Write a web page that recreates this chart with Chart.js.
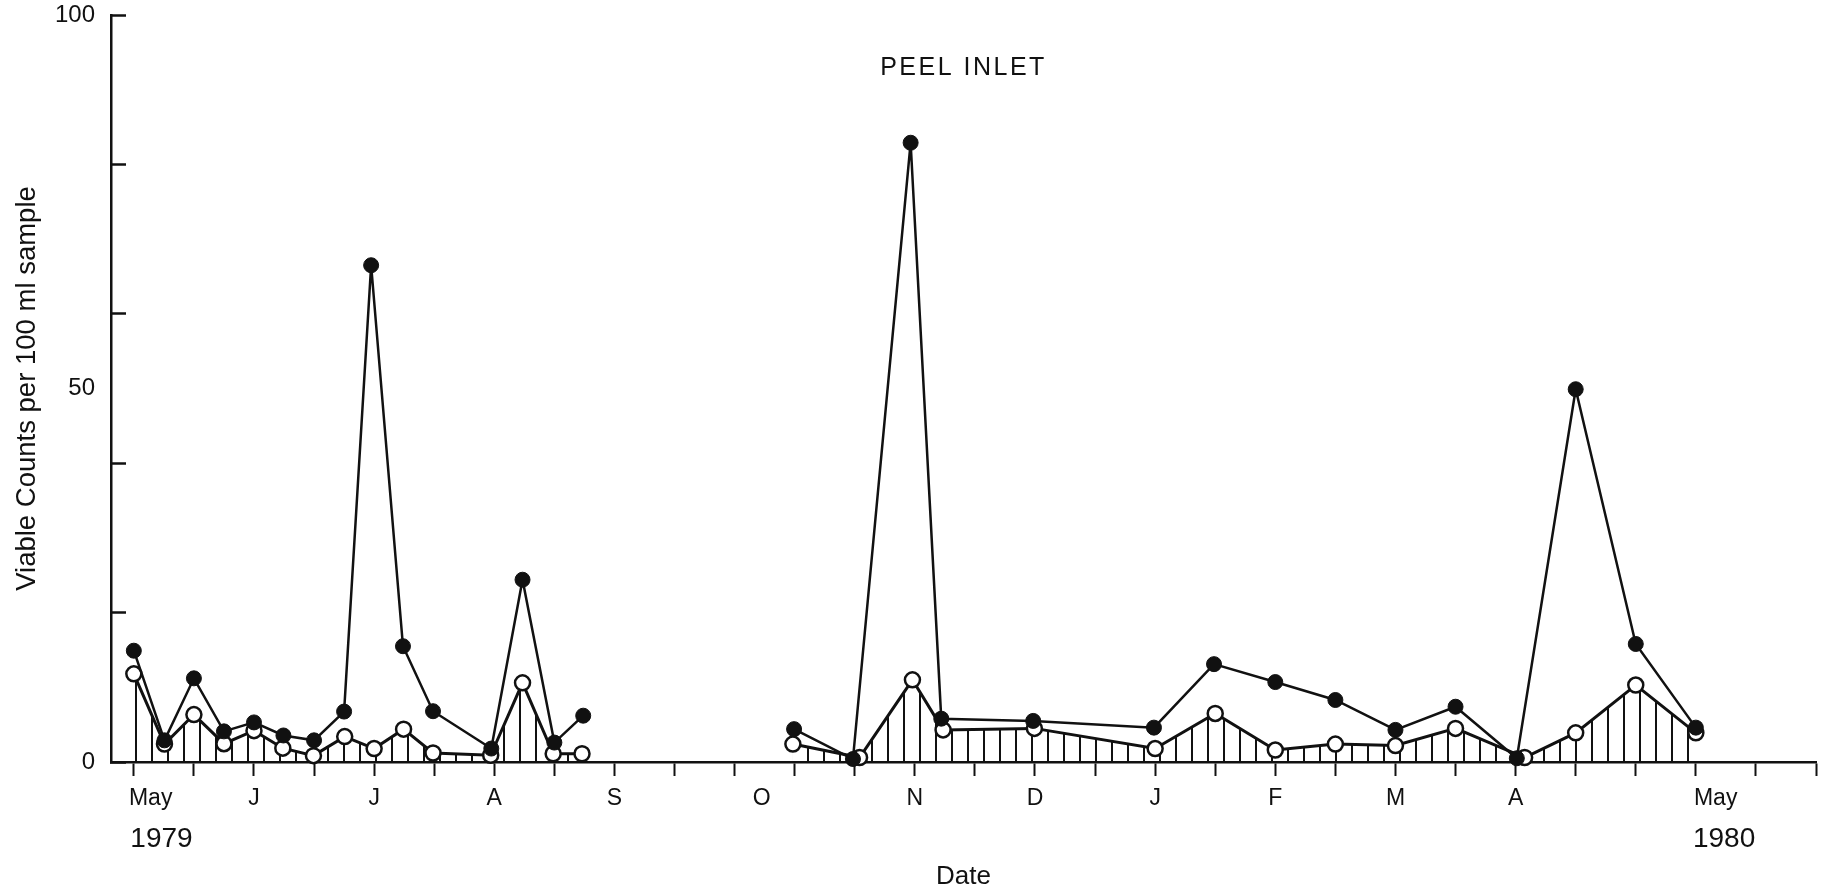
<!DOCTYPE html>
<html>
<head>
<meta charset="utf-8">
<title>Peel Inlet - viable counts</title>
<script src="https://cdn.jsdelivr.net/npm/chart.js@4.4.1/dist/chart.umd.min.js"></script>
<style>
  html, body { margin: 0; padding: 0; background: #fff; }
  #wrap { width: 1835px; height: 893px; }
</style>
</head>
<body>
<div id="wrap"><canvas id="peelChart" width="1835" height="893"></canvas></div>
<script>
// Peel Inlet - viable counts per 100 ml sample, May 1979 to May 1980.
// Date axis runs in half-month steps counted from the start of May 1979.

const FONT = '"Liberation Sans", Arial, sans-serif';
const INK = '#111';
const TITLE = 'PEEL INLET';

// tick marks on the date axis
const dateTicks = [0, 1, 2, 3, 4, 5, 6, 7, 8, 9, 10, 11, 12, 13, 14, 15, 16, 17, 18, 19, 20, 21, 22, 23, 24, 25, 26, 27, 28];
// month labels (a few sit between tick marks)
const monthAt   = [0.28, 0.46, 2, 4, 6, 8, 10.45, 13, 15, 17, 19, 21, 23, 26.33, 26.47];
const monthText = ['May', ['', '1979'], 'J', 'J', 'A', 'S', 'O', 'N', 'D', 'J', 'F', 'M', 'A', 'May', ['', '1980']];

// count axis: tick marks every 20, labels at 0 / 50 / 100
const countTicks  = [0, 20, 40, 60, 80, 100];
const countLabels = [0, 50, 100];

// filled circles
const filledX79 = [0, 0.51, 1.0, 1.5, 2.0, 2.49, 3.0, 3.5, 3.95, 4.48, 4.98, 5.95, 6.47, 7.0, 7.48];
const filledY79 = [14.9, 2.9, 11.2, 4.1, 5.3, 3.55, 2.9, 6.75, 66.5, 15.5, 6.8, 1.8, 24.4, 2.6, 6.2];
const filledX80 = [10.99, 11.97, 12.93, 13.44, 14.97, 16.98, 17.98, 19.0, 20.0, 21.0, 22.0, 23.02, 24.0, 25.0, 26.0];
const filledY80 = [4.4, 0.4, 82.9, 5.8, 5.5, 4.6, 13.1, 10.7, 8.3, 4.3, 7.4, 0.5, 49.9, 15.8, 4.6];

// open circles (hatched down to zero)
const openX79 = [0, 0.51, 1.0, 1.5, 2.0, 2.48, 2.99, 3.51, 4.0, 4.49, 4.98, 5.94, 6.47, 6.98, 7.46];
const openY79 = [11.8, 2.4, 6.35, 2.45, 4.2, 1.85, 0.85, 3.4, 1.8, 4.4, 1.2, 0.9, 10.6, 1.1, 1.1];
const openX80 = [10.97, 12.08, 12.96, 13.47, 14.99, 17.0, 18.0, 19.0, 20.0, 21.0, 22.0, 23.15, 24.0, 25.0, 26.0];
const openY80 = [2.4, 0.6, 11.0, 4.3, 4.5, 1.8, 6.5, 1.6, 2.4, 2.2, 4.5, 0.6, 3.9, 10.3, 3.9];

// no sampling between the two runs
const GAP_AT = 9;

function toPoints(xs, ys) {
    return xs.map((x, i) => ({ x: x, y: ys[i] }));
}

const filledPoints = [...toPoints(filledX79, filledY79), { x: GAP_AT, y: null }, ...toPoints(filledX80, filledY80)];
const openPoints = [...toPoints(openX79, openY79), { x: GAP_AT, y: null }, ...toPoints(openX80, openY80)];

const xTickValues = [...new Set([...dateTicks, ...monthAt])].sort((a, b) => a - b);
const yTickValues = [...new Set([...countTicks, ...countLabels])].sort((a, b) => a - b);

function monthIndex(v) {
    return monthAt.findIndex(m => Math.abs(m - v) < 1e-6);
}

const canvas = document.getElementById('peelChart');
const ctx = canvas.getContext('2d');

// vertical hatching under the open-circle series
function hatchPattern() {
    const tile = document.createElement('canvas');
    tile.width = 16;
    tile.height = 8;
    const g = tile.getContext('2d');
    g.fillStyle = INK;
    g.fillRect(7, 0, 2, 8);
    return ctx.createPattern(tile, 'repeat');
}

// spaced-out heading inside the plot
const headingPlugin = {
    id: 'heading',
    afterDraw(chart) {
        const area = chart.chartArea;
        const c = chart.ctx;
        c.save();
        c.font = '25px ' + FONT;
        c.letterSpacing = '2.5px';
        c.fillStyle = INK;
        c.textAlign = 'center';
        c.textBaseline = 'middle';
        c.fillText(TITLE, (area.left + area.right) / 2, 68);
        c.restore();
    }
};

new Chart(ctx, {
    type: 'line',
    data: {
        datasets: [
            {
                label: 'Filled',
                data: filledPoints,
                borderColor: INK,
                borderWidth: 2.5,
                pointRadius: 7.5,
                pointBorderWidth: 1,
                pointBackgroundColor: INK,
                pointBorderColor: INK,
                fill: false,
                tension: 0,
                spanGaps: false,
                clip: false
            },
            {
                label: 'Open',
                data: openPoints,
                borderColor: INK,
                borderWidth: 3,
                backgroundColor: hatchPattern(),
                pointRadius: 7.5,
                pointBorderWidth: 2.5,
                pointBackgroundColor: '#fff',
                pointBorderColor: INK,
                fill: 'origin',
                tension: 0,
                spanGaps: false,
                clip: false
            }
        ]
    },
    options: {
        responsive: false,
        animation: false,
        devicePixelRatio: 1,
        layout: { padding: { left: 0, right: 19, top: 15, bottom: 0 } },
        plugins: {
            legend: { display: false },
            tooltip: { enabled: false },
            title: { display: false }
        },
        scales: {
            x: {
                type: 'linear',
                min: -0.38,
                max: 28,
                afterBuildTicks: scale => { scale.ticks = xTickValues.map(v => ({ value: v })); },
                afterFit: scale => {
                    scale.height = 131;
                    scale.paddingLeft = 0;
                    scale.paddingRight = 0;
                },
                border: { display: true, color: INK, width: 2.5 },
                grid: {
                    display: true,
                    drawOnChartArea: false,
                    drawTicks: true,
                    tickLength: 14,
                    tickWidth: 2,
                    color: INK,
                    tickColor: c => dateTicks.includes(c.tick.value) ? INK : 'rgba(0,0,0,0)'
                },
                ticks: {
                    autoSkip: false,
                    maxRotation: 0,
                    minRotation: 0,
                    padding: 9,
                    color: INK,
                    font: c => {
                        const i = c.tick ? monthIndex(c.tick.value) : -1;
                        const year = i >= 0 && Array.isArray(monthText[i]);
                        return year ? { family: FONT, size: 28, lineHeight: 1.3 } : { family: FONT, size: 23 };
                    },
                    callback: v => {
                        const i = monthIndex(v);
                        return i >= 0 ? monthText[i] : '';
                    }
                },
                title: {
                    display: true,
                    text: 'Date',
                    color: INK,
                    font: { family: FONT, size: 26 },
                    padding: { top: 0, bottom: 1 }
                }
            },
            y: {
                type: 'linear',
                min: 0,
                max: 100,
                afterBuildTicks: scale => { scale.ticks = yTickValues.map(v => ({ value: v })); },
                afterFit: scale => {
                    scale.width = 111;
                    scale.paddingTop = 0;
                    scale.paddingBottom = 0;
                },
                border: { display: true, color: INK, width: 2.5 },
                grid: {
                    display: true,
                    drawOnChartArea: false,
                    drawTicks: true,
                    tickLength: -15,   // ticks point into the plot
                    tickWidth: 2.5,
                    color: INK,
                    tickColor: c => countTicks.includes(c.tick.value) ? INK : 'rgba(0,0,0,0)'
                },
                ticks: {
                    padding: 31,
                    color: INK,
                    font: { family: FONT, size: 24 },
                    callback: v => countLabels.includes(v) ? String(v) : ''
                },
                title: {
                    display: true,
                    text: 'Viable Counts per 100 ml sample',
                    color: INK,
                    font: { family: FONT, size: 27.5 },
                    padding: { top: 11, bottom: 0 }
                }
            }
        }
    },
    plugins: [headingPlugin]
});
</script>
</body>
</html>
